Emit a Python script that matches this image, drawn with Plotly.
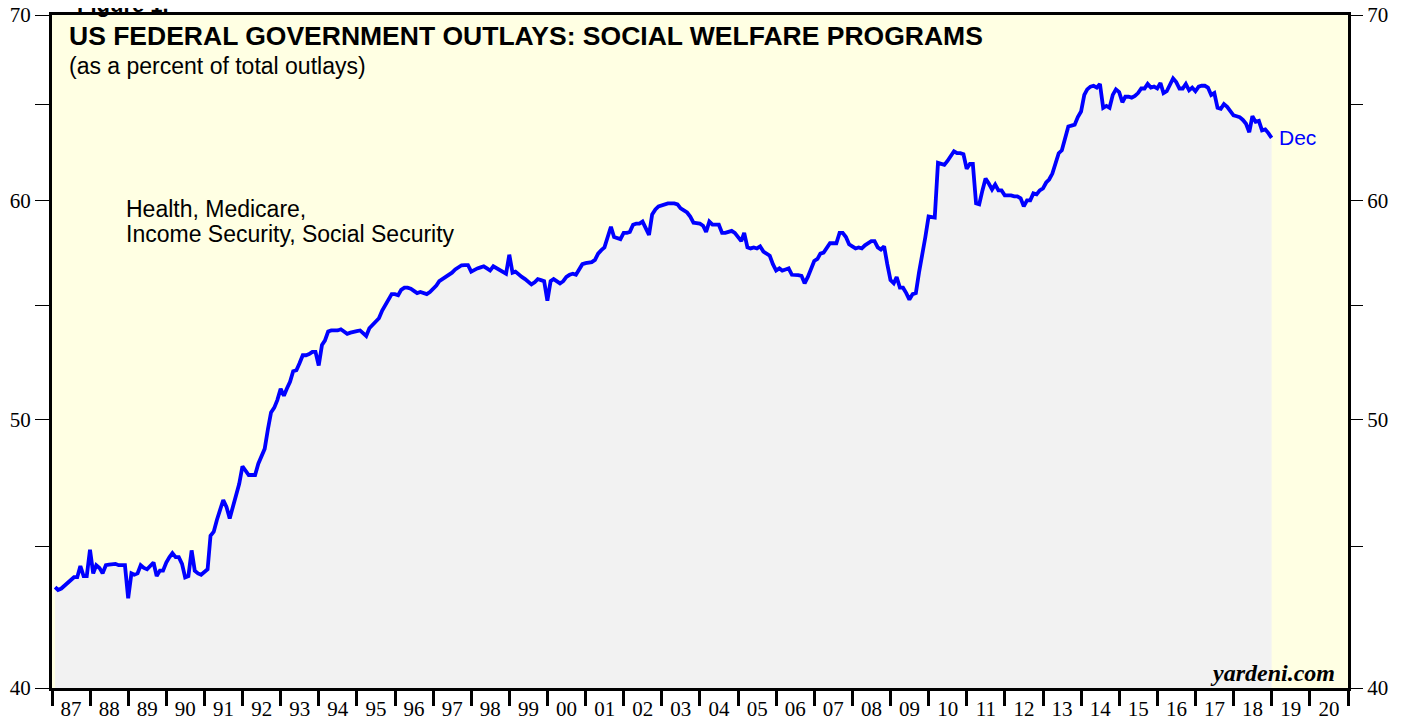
import math
import pandas as pd
import plotly.graph_objects as go

# Monthly values, Jan 1987 .. Dec 2018 (percent of total outlays)
start_month = "1987-01"
v1987 = [43.5, 43.4, 43.45, 43.55, 43.65, 43.75, 43.86, 43.86, 44.27, 43.9, 43.9, 44.87]
v1988 = [44.0, 44.3, 44.2, 44.0, 44.3, 44.32, 44.33, 44.35, 44.3, 44.3, 44.3, 43.1]
v1989 = [44.0, 43.95, 44.0, 44.3, 44.2, 44.15, 44.3, 44.4, 43.9, 44.1, 44.1, 44.4]
v1990 = [44.6, 44.75, 44.6, 44.6, 44.35, 43.85, 43.9, 44.85, 44.1, 44.0, 43.95, 44.05]
v1991 = [44.15, 45.4, 45.55, 46.0, 46.4, 46.77, 46.5, 46.05, 46.5, 46.9, 47.4, 48.1]
v1992 = [47.9, 47.75, 47.75, 47.75, 48.2, 48.5, 48.8, 49.6, 50.3, 50.5, 50.83, 51.3]
v1993 = [51.0, 51.3, 51.6, 52.05, 52.1, 52.4, 52.75, 52.75, 52.8, 52.9, 52.9, 52.3]
v1994 = [53.2, 53.4, 53.8, 53.85, 53.85, 53.85, 53.9, 53.8, 53.7, 53.75, 53.8, 53.82]
v1995 = [53.85, 53.75, 53.6, 53.95, 54.1, 54.2, 54.4, 54.75, 55.0, 55.25, 55.5, 55.5]
v1996 = [55.45, 55.7, 55.8, 55.8, 55.75, 55.65, 55.55, 55.6, 55.55, 55.5, 55.6, 55.75]
v1997 = [55.9, 56.1, 56.2, 56.25, 56.4, 56.5, 56.65, 56.75, 56.85, 56.86, 56.86, 56.55]
v1998 = [56.65, 56.7, 56.75, 56.8, 56.7, 56.6, 56.8, 56.72, 56.65, 56.55, 56.45, 57.35]
v1999 = [56.5, 56.55, 56.45, 56.3, 56.2, 56.1, 55.95, 56.05, 56.2, 56.15, 56.1, 55.2]
v2000 = [56.1, 56.2, 56.1, 56.0, 56.1, 56.3, 56.4, 56.45, 56.4, 56.7, 56.9, 56.95]
v2001 = [57.0, 57.0, 57.1, 57.4, 57.57, 57.7, 58.2, 58.7, 58.2, 58.15, 58.1, 58.4]
v2002 = [58.4, 58.45, 58.8, 58.85, 58.85, 58.95, 58.6, 58.3, 59.3, 59.55, 59.7, 59.75]
v2003 = [59.8, 59.85, 59.85, 59.85, 59.8, 59.6, 59.5, 59.4, 59.2, 58.9, 58.88, 58.85]
v2004 = [58.75, 58.45, 58.95, 58.8, 58.8, 58.8, 58.4, 58.4, 58.45, 58.5, 58.4, 58.2]
v2005 = [58.0, 58.4, 57.7, 57.65, 57.7, 57.65, 57.75, 57.5, 57.4, 57.3, 56.9, 56.6]
v2006 = [56.7, 56.6, 56.65, 56.7, 56.4, 56.4, 56.38, 56.35, 56.0, 56.3, 56.7, 57.05]
v2007 = [57.15, 57.4, 57.45, 57.65, 57.9, 57.9, 57.9, 58.4, 58.4, 58.2, 57.85, 57.75]
v2008 = [57.65, 57.7, 57.65, 57.8, 57.9, 58.0, 58.0, 57.7, 57.6, 57.75, 56.9, 56.15]
v2009 = [56.0, 56.3, 55.8, 55.8, 55.55, 55.25, 55.5, 55.55, 56.5, 57.3, 58.2, 59.2]
v2010 = [59.15, 59.15, 61.9, 61.85, 61.8, 62.0, 62.3, 62.5, 62.4, 62.4, 62.35, 61.6]
v2011 = [61.85, 61.85, 59.85, 59.8, 60.5, 61.1, 60.85, 60.55, 60.8, 60.5, 60.5, 60.25]
v2012 = [60.25, 60.25, 60.2, 60.2, 60.1, 59.7, 60.0, 60.0, 60.35, 60.3, 60.5, 60.6]
v2013 = [60.9, 61.05, 61.35, 61.9, 62.4, 62.55, 63.15, 63.8, 63.85, 63.9, 64.3, 64.6]
v2014 = [65.5, 65.8, 65.95, 66.0, 65.9, 66.1, 64.8, 64.9, 64.8, 65.5, 65.8, 65.65]
v2015 = [65.1, 65.4, 65.4, 65.35, 65.45, 65.6, 65.85, 65.85, 66.1, 65.9, 65.95, 65.85]
v2016 = [66.15, 65.6, 65.7, 66.0, 66.4, 66.2, 65.85, 65.85, 66.1, 65.75, 65.9, 65.7]
v2017 = [65.95, 66.0, 66.0, 65.9, 65.5, 65.6, 64.8, 64.75, 65.0, 64.85, 64.65, 64.4]
v2018 = [64.35, 64.3, 64.15, 63.95, 63.5, 64.35, 64.05, 64.1, 63.6, 63.65, 63.45, 63.2]

values = (v1987 + v1988 + v1989 + v1990 + v1991 + v1992 + v1993 + v1994 + v1995
          + v1996 + v1997 + v1998 + v1999 + v2000 + v2001 + v2002 + v2003 + v2004
          + v2005 + v2006 + v2007 + v2008 + v2009 + v2010 + v2011 + v2012 + v2013
          + v2014 + v2015 + v2016 + v2017 + v2018)

dates = list(pd.date_range(start=start_month, periods=len(values), freq="ME"))

years = list(range(1987, 2021))
year_labels = ["87", "88", "89", "90", "91", "92", "93", "94", "95", "96", "97", "98",
               "99", "00", "01", "02", "03", "04", "05", "06", "07", "08", "09", "10",
               "11", "12", "13", "14", "15", "16", "17", "18", "19", "20"]
y_ticks = [40, 45, 50, 55, 60, 65, 70]
y_tick_text = ["40", "", "50", "", "60", "", "70"]
y_min, y_max = 40, 70
x_start, x_end = "1987-01-01", "2021-01-01"

title = "US FEDERAL GOVERNMENT OUTLAYS: SOCIAL WELFARE PROGRAMS"
subtitle = "(as a percent of total outlays)"
label_line1 = "Health, Medicare,"
label_line2 = "Income Security, Social Security"
last_label = "Dec"
source = "yardeni.com"
figure_label = "Figure 1."

label_pos = [pd.Timestamp(year=y, month=7, day=2) for y in years]
boundaries = [pd.Timestamp(year=y, month=1, day=1) for y in years + [years[-1] + 1]]

fig = go.Figure()
# baseline for the shaded area
fig.add_trace(go.Scatter(x=dates, y=[y_min] * len(values), mode="lines",
                         line=dict(width=0, color="rgba(0,0,0,0)"),
                         hoverinfo="skip", showlegend=False))
fig.add_trace(go.Scatter(x=dates, y=values, mode="lines",
                         line=dict(color="#0000ff", width=3.8),
                         fill="tonexty", fillcolor="#f2f2f2",
                         showlegend=False))
# invisible trace that carries the right-hand axis
fig.add_trace(go.Scatter(x=dates, y=values, mode="lines", yaxis="y2",
                         line=dict(width=0, color="rgba(0,0,0,0)"),
                         hoverinfo="skip", showlegend=False))

tick_font = dict(family="Liberation Serif, Times New Roman, serif", size=21, color="black")
sans = "Liberation Sans, Arial, sans-serif"
yrange = [math.log10(y_min), math.log10(y_max)]

fig.update_layout(
    width=1405, height=711,
    margin=dict(l=44, r=65, t=7, b=31, autoexpand=False),
    paper_bgcolor="white",
    plot_bgcolor="#ffffe3",
    xaxis=dict(type="date", range=[x_start, x_end],
               tickmode="array", tickvals=label_pos, ticktext=year_labels,
               ticks="", ticklabelstandoff=0, automargin=False,
               ticklabeloverflow="allow",
               minor=dict(tickmode="array", tickvals=boundaries, ticks="outside",
                          ticklen=15, tickwidth=3, tickcolor="black", showgrid=False),
               showline=True, linewidth=3, linecolor="black", mirror=True,
               showgrid=False, zeroline=False, tickfont=tick_font),
    yaxis=dict(type="log", range=yrange, tickvals=y_ticks, ticktext=y_tick_text,
               ticks="outside", ticklen=14, tickwidth=1, tickcolor="black",
               automargin=False, ticklabeloverflow="allow",
               showline=True, linewidth=3, linecolor="black", mirror=True,
               showgrid=False, zeroline=False, tickfont=tick_font),
    yaxis2=dict(type="log", range=yrange, tickvals=y_ticks, ticktext=y_tick_text,
                overlaying="y", side="right", automargin=False,
                ticklabeloverflow="allow",
                ticks="outside", ticklen=14, tickwidth=1, tickcolor="black",
                showline=False, showgrid=False, zeroline=False, tickfont=tick_font),
    font=dict(family=sans, color="black"),
)

PW, PH = 1296.0, 673.0  # plot area size in pixels

def ann(text, px, py, size, xanchor="left", family=sans, color="black"):
    fig.add_annotation(x=px / PW, y=1 - py / PH, xref="paper", yref="paper",
                       xanchor=xanchor, yanchor="middle", showarrow=False,
                       text=text, font=dict(family=family, size=size, color=color))

ann("<b>" + title + "</b>", 15, 21, 26.5)
ann(subtitle, 15, 51, 23)
ann(label_line1, 72, 194, 23)
ann(label_line2, 72, 219, 23)
ann("<b><i>" + source + "</i></b>", 1285, 658, 24, xanchor="right",
    family="Liberation Serif, Times New Roman, serif")
ann("<b>" + figure_label + "</b>", 23, -11, 22)

fig.add_annotation(x=dates[-1], y=math.log10(values[-1]), xref="x", yref="y",
                   xanchor="left", yanchor="middle", showarrow=False, xshift=5,
                   text=last_label, font=dict(family=sans, size=21, color="#0000ff"))

fig.write_html("out.html")
